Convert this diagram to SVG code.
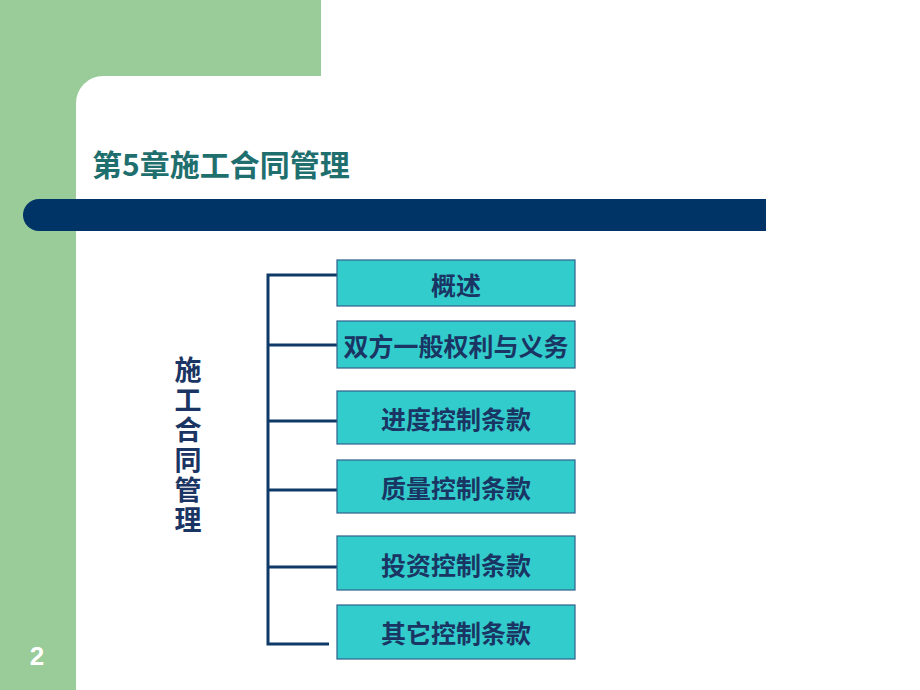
<svg xmlns="http://www.w3.org/2000/svg" width="920" height="690" viewBox="0 0 920 690">
<style>
.box{fill:#33cccc;stroke:#2f5f8a;stroke-width:1.2}
.bt{font-family:"Noto Sans CJK SC","Noto Sans",sans-serif;font-size:25px;font-weight:bold;fill:#1a3563;text-anchor:middle;dominant-baseline:central}
.conn{stroke:#0f3a68;stroke-width:3;fill:none}
.vt{font-family:"Noto Sans CJK SC",sans-serif;font-size:27px;font-weight:bold;fill:#1a3563;writing-mode:vertical-rl;letter-spacing:3px}
</style>
<rect x="0" y="0" width="920" height="690" fill="#ffffff"/>
<g id="background">
<path d="M0 0H321V76H103A27 27 0 0 0 76 103V690H0Z" fill="#99cc99"/>
<path d="M39 199H766V231H39A16 16 0 0 1 39 199Z" fill="#003366"/>
</g>
<g id="title"><text x="92" y="176" font-family="'Noto Sans CJK SC','Noto Sans',sans-serif" font-size="30" font-weight="bold" fill="#1f6f6f">第5章施工合同管理</text></g>
<g id="pagenum"><text x="37" y="665" font-family="'Liberation Sans',sans-serif" font-size="26" font-weight="bold" fill="#ffffff" text-anchor="middle">2</text></g>
<g id="root">
<text class="vt" x="188" y="356">施工合同管理</text>
</g>
<g id="connectors">
<path class="conn" d="M337 275H268V644H329"/>
<path class="conn" d="M268 345H337M268 421H337M268 490H337M268 567H337"/>
</g>
<g id="n1"><rect class="box" x="337" y="260" width="238" height="46"/><text class="bt" x="456" y="284">概述</text></g>
<g id="n2"><rect class="box" x="337" y="321" width="238" height="47"/><text class="bt" x="456" y="345">双方一般权利与义务</text></g>
<g id="n3"><rect class="box" x="337" y="391" width="238" height="53"/><text class="bt" x="456" y="418">进度控制条款</text></g>
<g id="n4"><rect class="box" x="337" y="460" width="238" height="53"/><text class="bt" x="456" y="487">质量控制条款</text></g>
<g id="n5"><rect class="box" x="337" y="536" width="238" height="54"/><text class="bt" x="456" y="564">投资控制条款</text></g>
<g id="n6"><rect class="box" x="337" y="605" width="238" height="54"/><text class="bt" x="456" y="632">其它控制条款</text></g>
</svg>
